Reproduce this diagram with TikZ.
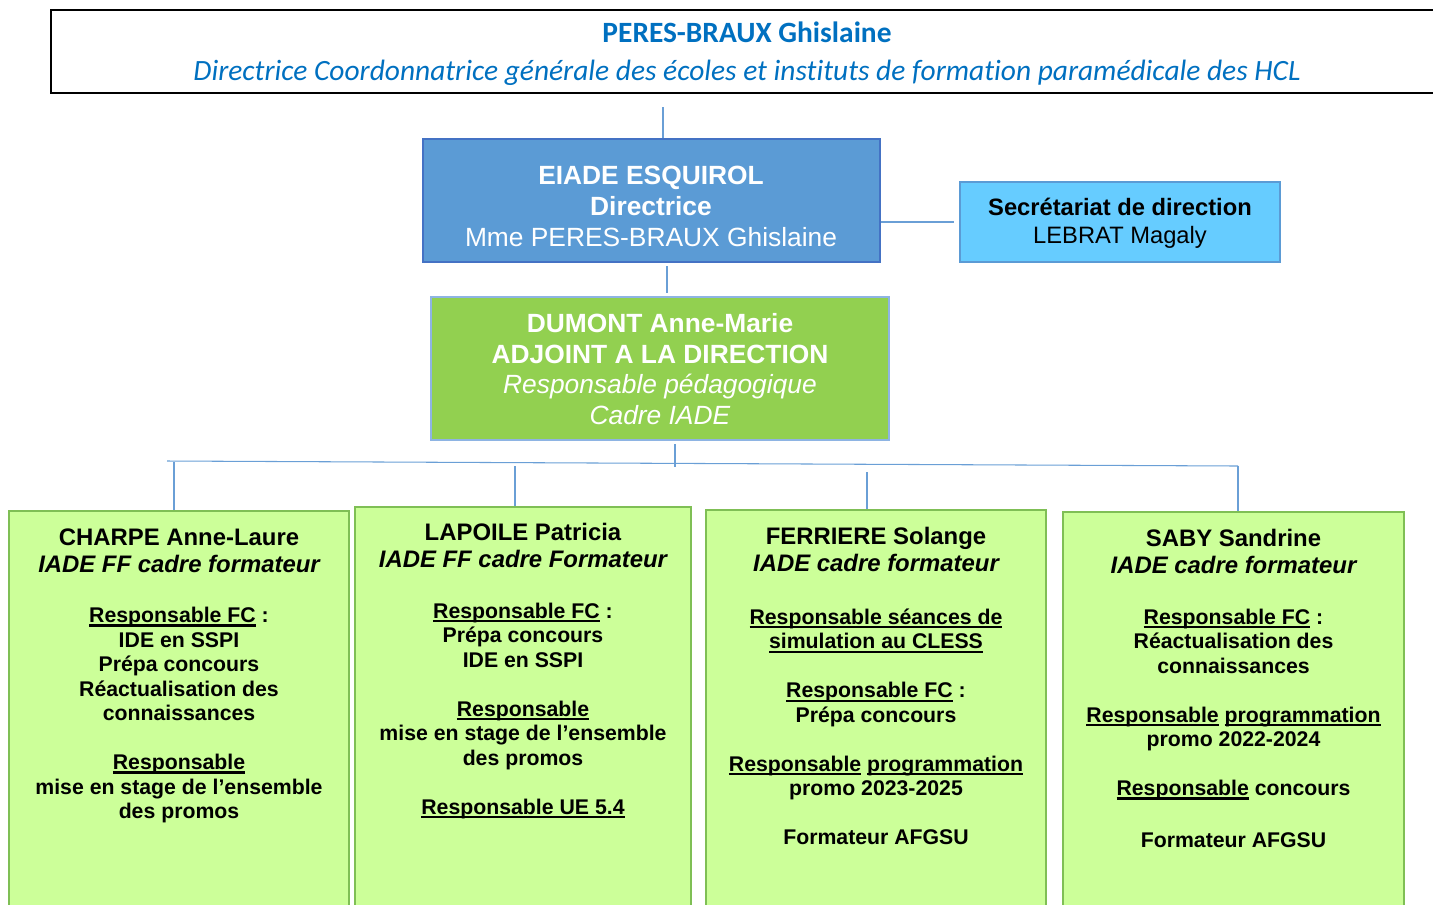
\documentclass[tikz,border=0pt]{standalone}
\usepackage{fontspec}
\setmainfont{Liberation Sans}
\newfontfamily\calib[Ligatures=CommonOff]{Carlito}
\usepackage{xcolor}
\usetikzlibrary{positioning}
\definecolor{hclblue}{HTML}{0070C0}
\definecolor{dirblue}{HTML}{5B9BD5}
\definecolor{dirline}{HTML}{4472C4}
\definecolor{secfill}{HTML}{66CCFF}
\definecolor{adjgreen}{HTML}{92D050}
\definecolor{adjline}{HTML}{8EB4E3}
\definecolor{cardfill}{HTML}{CCFF99}
\definecolor{cardline}{HTML}{7FBF55}
\definecolor{linkblue}{HTML}{6A9FD6}
\newcommand\resp[1]{\leavevmode\setbox0\hbox{#1}\rlap{\rule[-2.3pt]{\wd0}{1.2pt}}\box0\relax}
\newcommand\sk{\\[13.9pt]}

\begin{document}
\begin{tikzpicture}[x=0.02cm,y=-0.02cm,
    link/.style={draw=linkblue,line width=0.6pt},
    card/.style={draw=cardline,fill=cardfill,line width=0.9pt,minimum width=6.8cm,minimum height=8.2cm,inner sep=0pt},
    head/.style={anchor=north,align=center,inner sep=0pt,font=\bfseries\fontsize{13.6}{15.3}\selectfont},
    body/.style={below=0.68cm of #1,align=center,inner sep=0pt,font=\bfseries\fontsize{12.1}{13.95}\selectfont}]
  \useasboundingbox (0,0) rectangle (1433,904);
  \clip (0,0) rectangle (1433,904);
  % HCL
  \node[draw=black,line width=1.1pt,minimum width=28.18cm,minimum height=1.66cm,inner sep=0pt] (hcl) at (755.5,51.5) {};
  \node[align=center,text=hclblue,inner sep=0pt,font=\calib\fontsize{16.75}{21.5}\selectfont] (hcl text) at (747,54)
    {\textbf{PERES-BRAUX Ghislaine}\\ \textit{Directrice Coordonnatrice générale des écoles et instituts de formation paramédicale des HCL}};
  % direction
  \node[draw=dirline,fill=dirblue,line width=0.8pt,minimum width=9.14cm,minimum height=2.46cm] (eiade) at (651.5,200.5) {};
  \node[text=white,align=center,inner sep=0pt,font=\fontsize{15}{17.6}\selectfont] (eiade text) at (651,206)
    {\textbf{EIADE ESQUIROL}\\ \textbf{Directrice}\\ Mme PERES-BRAUX Ghislaine};
  \node[draw=dirblue,fill=secfill,line width=0.8pt,minimum width=6.4cm,minimum height=1.6cm] (secr) at (1120,222) {};
  \node[align=center,inner sep=0pt,font=\fontsize{13.5}{15.9}\selectfont] (secr text) at (1120,223)
    {\textbf{Secrétariat de direction}\\ LEBRAT Magaly};
  \node[draw=adjline,fill=adjgreen,line width=0.8pt,minimum width=9.16cm,minimum height=2.86cm] (dumont) at (660,368.5) {};
  \node[text=white,align=center,inner sep=0pt,font=\fontsize{15}{17.4}\selectfont] (dumont text) at (660,369)
    {\textbf{DUMONT Anne-Marie}\\ \textbf{ADJOINT A LA DIRECTION}\\ \textit{Responsable pédagogique}\\ \textit{Cadre IADE}};
  % formateurs
  \node[card] (charpe) at (179,716) {};
  \node[card,minimum width=6.72cm,minimum height=8.26cm] (lapoile) at (523,713.5) {};
  \node[card] (ferriere) at (876,715) {};
  \node[card,minimum width=6.82cm,minimum height=8.16cm] (saby) at (1233.5,716) {};
  \node[head] (charpe head) at ([shift={(0,18)}]charpe.north) {CHARPE Anne-Laure\\ \itshape IADE FF cadre formateur};
  \node[head] (lapoile head) at ([shift={(0,17)}]lapoile.north) {LAPOILE Patricia\\ \itshape IADE FF cadre Formateur};
  \node[head] (ferriere head) at ([shift={(0,18)}]ferriere.north) {FERRIERE Solange\\ \itshape IADE cadre formateur};
  \node[head] (saby head) at ([shift={(0,18)}]saby.north) {SABY Sandrine\\ \itshape IADE cadre formateur};
  \node[body=charpe head] (charpe body) {\resp{Responsable FC} :\\ IDE en SSPI\\ Prépa concours\\ Réactualisation des\\ connaissances\sk
    \resp{Responsable}\\ mise en stage de l’ensemble\\ des promos};
  \node[body=lapoile head] (lapoile body) {\resp{Responsable FC} :\\ Prépa concours\\ IDE en SSPI\sk
    \resp{Responsable}\\ mise en stage de l’ensemble\\ des promos\sk \resp{Responsable UE 5.4}};
  \node[body=ferriere head,yshift=-1.1pt] (ferriere body) {\resp{Responsable séances de}\\ \resp{simulation au CLESS}\sk
    \resp{Responsable FC} :\\ Prépa concours\sk \resp{Responsable} \resp{programmation}\\ promo 2023-2025\sk Formateur AFGSU};
  \node[body=saby head] (saby body) {\resp{Responsable FC} :\\ Réactualisation des\\ connaissances\sk
    \resp{Responsable} \resp{programmation}\\ promo 2022-2024\sk \resp{Responsable} concours\\[15.5pt] Formateur AFGSU};
  % liens
  \coordinate (t0) at (663,107);
  \coordinate (t1) at (667,266);
  \coordinate (t2) at (675,444);
  \coordinate (busL) at (167,461);
  \coordinate (busR) at (1238,466);
  \draw[link] (t0) -- (t0 |- eiade.north);
  \draw[link,shorten >=2.8pt] (secr.west -| eiade.east) -- (secr.west);
  \draw[link,shorten >=2pt] (t1) -- (t1 |- dumont.north);
  \draw[link] (t2) -- ++(0,23);
  \draw[link] (busL) -- (busR);
  \foreach \n/\x/\y in {charpe/174/462,lapoile/515/466,ferriere/867/472,saby/1238/466}
    \draw[link] (\x,\y) -- (\n.north -| \x,\y);
\end{tikzpicture}
\end{document}
